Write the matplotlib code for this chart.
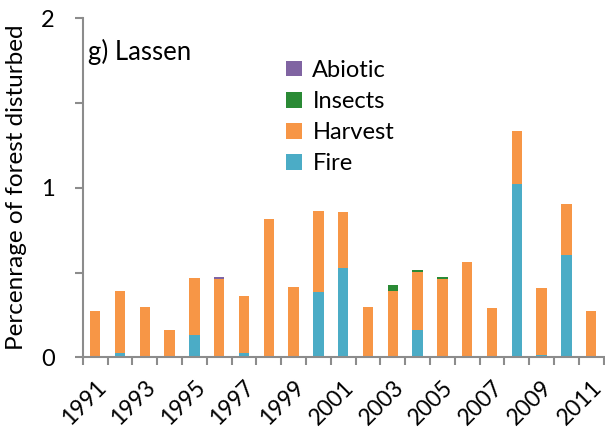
import matplotlib
matplotlib.use("Agg")
import matplotlib.pyplot as plt
import numpy as np

years = list(range(1991, 2012))
fire    = [0.0, 0.024, 0.0, 0.0, 0.130, 0.0, 0.024, 0.0, 0.0, 0.383, 0.527,
           0.0, 0.0, 0.162, 0.0, 0.006, 0.0, 1.020, 0.014, 0.602, 0.0]
harvest = [0.274, 0.368, 0.296, 0.160, 0.339, 0.463, 0.335, 0.817, 0.412, 0.477, 0.327,
           0.298, 0.389, 0.343, 0.460, 0.556, 0.292, 0.317, 0.392, 0.301, 0.274]
insects = [0.0, 0.0, 0.0, 0.0, 0.0, 0.0, 0.0, 0.0, 0.0, 0.0, 0.0,
           0.0, 0.039, 0.010, 0.011, 0.0, 0.0, 0.0, 0.0, 0.0, 0.0]
abiotic = [0.0, 0.0, 0.0, 0.0, 0.0, 0.012, 0.0, 0.0, 0.0, 0.0, 0.0,
           0.0, 0.0, 0.0, 0.0, 0.0, 0.0, 0.0, 0.0, 0.0, 0.0]

colors = {"Fire": "#4BACC6", "Harvest": "#F79646", "Insects": "#2A8A35", "Abiotic": "#8064A2"}

plt.rcParams['font.family'] = ['Lato', 'DejaVu Sans']

fig = plt.figure(figsize=(6.05, 4.36), dpi=100)
ax = fig.add_axes([0.1367, 0.1805, 0.861, 0.778])

x = np.arange(len(years))
w = 0.42
f = np.array(fire); h = np.array(harvest); ins = np.array(insects); ab = np.array(abiotic)
ax.bar(x, f, w, color=colors["Fire"], label="Fire", zorder=2)
ax.bar(x, h, w, bottom=f, color=colors["Harvest"], label="Harvest", zorder=2)
ax.bar(x, ins, w, bottom=f + h, color=colors["Insects"], label="Insects", zorder=2)
ax.bar(x, ab, w, bottom=f + h + ins, color=colors["Abiotic"], label="Abiotic", zorder=2)

ax.set_xlim(-0.5, len(years) - 0.5)
ax.set_ylim(0, 2)

ax.set_yticks([0, 0.5, 1, 1.5, 2])
ax.set_yticklabels(["0", "", "1", "", "2"])
ax.set_xticks(x)
ax.set_xticklabels([str(y) if (y - 1991) % 2 == 0 else "" for y in years],
                   rotation=45, ha="right", rotation_mode="anchor")
ax.set_xticks(np.arange(-0.5, len(years)), minor=True)
ax.tick_params(axis="x", which="major", length=0, pad=14, labelsize=16.5)
ax.tick_params(axis="x", which="minor", length=6, width=1.5, color="#8c8c8c", direction="out")
ax.tick_params(axis="y", length=6, width=1.5, color="#8c8c8c", labelsize=17, pad=14)

for s in ["top", "right"]:
    ax.spines[s].set_visible(False)
for s in ["left", "bottom"]:
    ax.spines[s].set_color("#8c8c8c")
    ax.spines[s].set_linewidth(1.5)

ax.set_ylabel("Percenrage of forest disturbed", fontsize=17.5, labelpad=10)
ax.text(0.01, 0.94, "g) Lassen", transform=ax.transAxes, fontsize=18.5, va="top", ha="left")

handles, labels = ax.get_legend_handles_labels()
leg = ax.legend(handles[::-1], labels[::-1], loc="upper left", bbox_to_anchor=(0.373, 0.905),
                frameon=False, fontsize=17, handlelength=0.65, handleheight=0.65,
                labelspacing=0.43, handletextpad=0.45, borderaxespad=0)

fig.savefig("out.png", dpi=100)
